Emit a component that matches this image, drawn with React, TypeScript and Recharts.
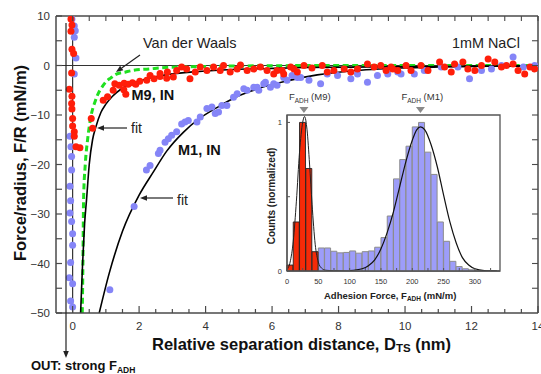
import React from 'react';
import { ComposedChart, Scatter, Line, Bar, XAxis, YAxis, ReferenceLine, ReferenceDot, ReferenceArea } from 'recharts';

const FONT = 'Arial, "Liberation Sans", Helvetica, sans-serif';
const AX = '#4a4a4a';
const RED = '#ff1e0a';
const BLUE = '#8585f7';

// ---------- main panel data (x = D_TS nm, y = F/R mN/m) ----------
const m1Approach = [
  { x: -0.02, y: 9.4 }, { x: 0.05, y: 8.0 }, { x: 0.08, y: 7.0 }, { x: 0.05, y: 5.7 }, { x: 0.1, y: 1.5 },
  { x: 0.05, y: -1.7 }, { x: -0.08, y: -14.3 }, { x: -0.05, y: -16.4 }, { x: -0.03, y: -18.4 }, { x: -0.03, y: -21.1 },
  { x: -0.08, y: -24.4 }, { x: -0.06, y: -27.3 }, { x: -0.08, y: -29.8 }, { x: -0.03, y: -31.5 }, { x: 0.0, y: -34.0 },
  { x: 0.0, y: -36.3 }, { x: -0.06, y: -39.8 }, { x: -0.1, y: -42.9 }, { x: 0.0, y: -44.1 }, { x: -0.06, y: -47.6 },
  { x: 0.0, y: -48.8 },
];
const m1Retract = [
  { x: 1.12, y: -45.3 }, { x: 1.85, y: -28.5 }, { x: 2.22, y: -21.1 }, { x: 2.33, y: -20.2 }, { x: 2.58, y: -17.8 },
  { x: 2.63, y: -17.1 }, { x: 2.78, y: -15.5 }, { x: 2.88, y: -14.8 }, { x: 2.98, y: -14.1 }, { x: 3.13, y: -13.4 },
  { x: 3.28, y: -11.8 }, { x: 3.38, y: -11.4 }, { x: 3.48, y: -11.1 }, { x: 3.74, y: -11.4 }, { x: 3.84, y: -10.4 },
  { x: 4.04, y: -8.7 }, { x: 4.19, y: -8.4 }, { x: 4.29, y: -9.7 }, { x: 4.39, y: -9.4 }, { x: 4.49, y: -8.1 },
  { x: 4.64, y: -8.1 }, { x: 4.84, y: -6.4 }, { x: 4.95, y: -5.7 }, { x: 5.15, y: -4.7 }, { x: 5.25, y: -5.0 },
  { x: 5.45, y: -4.4 }, { x: 5.55, y: -4.4 }, { x: 5.6, y: -5.0 }, { x: 5.75, y: -3.7 }, { x: 5.8, y: -3.4 },
  { x: 5.95, y: -4.4 }, { x: 6.05, y: -3.7 }, { x: 6.15, y: -4.0 }, { x: 6.35, y: -2.4 }, { x: 6.45, y: -3.0 },
  { x: 6.6, y: -2.0 }, { x: 6.76, y: -2.4 }, { x: 6.86, y: -2.4 }, { x: 7.11, y: -3.0 }, { x: 7.46, y: -3.7 },
  { x: 7.66, y: -1.7 }, { x: 7.97, y: -2.0 }, { x: 8.37, y: -2.7 }, { x: 8.57, y: -1.7 }, { x: 8.87, y: -3.4 },
  { x: 9.17, y: -2.0 }, { x: 9.48, y: -1.7 }, { x: 9.78, y: -1.3 }, { x: 9.88, y: -1.7 }, { x: 10.28, y: -1.7 },
  { x: 10.58, y: -1.0 }, { x: 11.09, y: -0.3 }, { x: 11.59, y: -0.3 }, { x: 11.94, y: -2.7 }, { x: 12.3, y: -1.0 },
  { x: 12.6, y: -0.7 }, { x: 12.9, y: 0.0 }, { x: 13.25, y: 1.7 }, { x: 13.56, y: -0.3 }, { x: 13.9, y: 0.0 },
];
const m9Approach = [
  { x: -0.05, y: 9.4 }, { x: -0.02, y: 8.2 }, { x: -0.05, y: 6.9 }, { x: -0.02, y: 3.3 }, { x: 0.03, y: 2.4 },
  { x: -0.03, y: -1.5 }, { x: -0.1, y: -4.8 }, { x: -0.02, y: -6.2 }, { x: -0.03, y: -7.7 }, { x: -0.02, y: -8.8 },
  { x: 0.0, y: -10.7 }, { x: 0.0, y: -12.2 }, { x: 0.05, y: -13.4 }, { x: 0.05, y: -14.3 }, { x: 0.1, y: -16.4 },
  { x: 0.22, y: -16.6 },
];
const m9Retract = [
  { x: 0.56, y: -10.7 }, { x: 0.6, y: -12.7 }, { x: 0.92, y: -7.0 }, { x: 1.05, y: -6.3 }, { x: 1.22, y: -5.0 },
  { x: 1.27, y: -3.7 }, { x: 1.4, y: -4.0 }, { x: 1.54, y: -4.9 }, { x: 1.6, y: -5.8 }, { x: 1.55, y: -3.6 },
  { x: 1.67, y: -3.8 }, { x: 1.8, y: -3.5 }, { x: 1.9, y: -3.8 }, { x: 2.02, y: -3.2 }, { x: 2.23, y: -3.0 },
  { x: 2.33, y: -2.0 }, { x: 2.45, y: -2.7 }, { x: 2.63, y: -2.2 }, { x: 2.63, y: -1.6 }, { x: 2.83, y: -2.6 },
  { x: 2.85, y: -1.3 }, { x: 3.03, y: -2.3 }, { x: 3.13, y: -1.0 }, { x: 3.28, y: -0.3 }, { x: 3.43, y: -0.7 },
  { x: 3.53, y: -2.7 }, { x: 3.69, y: -1.3 }, { x: 3.84, y: -0.3 }, { x: 4.04, y: -1.0 }, { x: 4.24, y: -0.3 },
  { x: 4.44, y: -1.0 }, { x: 4.54, y: 0.0 }, { x: 4.74, y: -1.3 }, { x: 4.95, y: -0.7 }, { x: 5.05, y: 0.1 },
  { x: 5.25, y: -1.0 }, { x: 5.45, y: -0.7 }, { x: 5.65, y: -0.3 }, { x: 5.85, y: -1.0 }, { x: 6.05, y: -1.7 },
  { x: 6.15, y: -1.0 }, { x: 6.3, y: -1.0 }, { x: 6.35, y: -1.7 }, { x: 6.56, y: -0.3 }, { x: 6.66, y: -0.7 },
  { x: 6.76, y: -1.3 }, { x: 6.96, y: 0.0 }, { x: 7.2, y: -0.5 }, { x: 7.51, y: 0.0 }, { x: 7.66, y: -1.3 },
  { x: 7.86, y: -1.0 }, { x: 8.17, y: -0.7 }, { x: 8.37, y: -1.3 }, { x: 8.57, y: -0.7 }, { x: 8.87, y: 0.3 },
  { x: 9.07, y: -0.3 }, { x: 9.27, y: 0.0 }, { x: 9.43, y: -1.0 }, { x: 9.58, y: -0.3 }, { x: 9.63, y: -0.7 },
  { x: 9.78, y: -1.0 }, { x: 10.03, y: 0.0 }, { x: 10.18, y: -1.0 }, { x: 10.48, y: 0.0 }, { x: 10.69, y: -1.0 },
  { x: 11.04, y: 0.7 }, { x: 11.19, y: -0.3 }, { x: 11.39, y: -1.3 }, { x: 11.49, y: 0.3 }, { x: 11.74, y: 0.7 },
  { x: 11.89, y: -0.7 }, { x: 12.1, y: -1.0 }, { x: 12.3, y: 0.0 }, { x: 12.5, y: 1.3 }, { x: 12.7, y: 0.7 },
  { x: 12.9, y: -0.3 }, { x: 13.05, y: 0.0 }, { x: 13.25, y: 0.3 }, { x: 13.4, y: -1.0 }, { x: 13.6, y: -1.7 },
  { x: 13.76, y: -0.3 }, { x: 13.9, y: -0.7 },
];
const vdwCurve = [
  { x: 0.29, y: -50 }, { x: 0.31, y: -40 }, { x: 0.33, y: -27 }, { x: 0.38, y: -20 }, { x: 0.45, y: -15 },
  { x: 0.54, y: -10.7 }, { x: 0.69, y: -7.0 }, { x: 0.82, y: -5.0 }, { x: 0.9, y: -4.2 }, { x: 1.0, y: -3.3 },
  { x: 1.15, y: -2.5 }, { x: 1.3, y: -1.8 }, { x: 1.6, y: -1.3 }, { x: 1.8, y: -1.0 }, { x: 2.3, y: -0.7 },
  { x: 2.8, y: -0.4 }, { x: 3.5, y: -0.25 }, { x: 5, y: -0.1 }, { x: 8, y: 0 }, { x: 14, y: 0 },
];
const m9Fit = [
  { x: 0.24, y: -50 }, { x: 0.3, y: -40 }, { x: 0.36, y: -32 }, { x: 0.42, y: -27 }, { x: 0.5, y: -20 },
  { x: 0.6, y: -15 }, { x: 0.7, y: -12.4 }, { x: 0.85, y: -9.5 }, { x: 1.0, y: -7.8 }, { x: 1.2, y: -6.2 },
  { x: 1.45, y: -4.8 }, { x: 1.8, y: -3.6 }, { x: 2.3, y: -2.6 }, { x: 2.8, y: -1.9 }, { x: 3.8, y: -1.2 },
  { x: 4.8, y: -0.8 }, { x: 5.9, y: -0.6 }, { x: 7, y: -0.4 }, { x: 9, y: -0.3 }, { x: 11, y: -0.2 }, { x: 14, y: -0.1 },
];
const m1Fit = [
  { x: 0.8, y: -50 }, { x: 1.1, y: -42 }, { x: 1.5, y: -33.5 }, { x: 2.0, y: -26.2 }, { x: 2.43, y: -21.5 },
  { x: 2.83, y: -17.3 }, { x: 3.33, y: -13.5 }, { x: 3.84, y: -10.6 }, { x: 4.34, y: -8.5 }, { x: 4.84, y: -6.6 },
  { x: 5.35, y: -5.2 }, { x: 5.85, y: -4.1 }, { x: 6.45, y: -3.1 }, { x: 7.36, y: -1.9 }, { x: 8.37, y: -1.1 },
  { x: 9.9, y: -0.5 }, { x: 11, y: -0.3 }, { x: 12.5, y: -0.15 }, { x: 14, y: -0.05 },
];

const xTicks = [0, 0.5, 1, 1.5, 2, 2.5, 3, 3.5, 4, 4.5, 5, 5.5, 6, 6.5, 7, 7.5, 8, 8.5, 9, 9.5, 10, 10.5, 11, 11.5, 12, 12.5, 13, 13.5, 14];
const xLabelled = [0, 2, 4, 6, 8, 10, 12, 14];
const yTicks = [-45, -40, -35, -30, -25, -20, -15, -10, -5, 0, 5];
const yLabelled = [-50, -40, -30, -20, -10, 0, 10];
const yLeftTicks = [-50, -45, -40, -35, -30, -25, -20, -15, -10, -5, 0, 5, 10];

// ---------- inset histogram data ----------
const binCenters = [5, 15, 25, 35, 45, 55, 65, 75, 85, 95, 105, 115, 125, 135, 145, 155, 165, 175, 185, 195, 205, 215, 225, 235, 245, 255, 265, 275, 285, 295, 305, 315, 325, 335];
const m9Counts = [0.04, 0.33, 1.0, 0.69, 0.13, 0, 0, 0, 0, 0, 0, 0, 0, 0, 0, 0, 0, 0, 0, 0, 0, 0, 0, 0, 0, 0, 0, 0, 0, 0, 0, 0, 0, 0];
const m1Counts = [0, 0, 0, 0, 0, 0.155, 0.155, 0.133, 0.122, 0.125, 0.135, 0.12, 0.13, 0.135, 0.16, 0.225, 0.37, 0.62, 0.75, 0.84, 0.97, 1.0, 0.8, 0.65, 0.33, 0.2, 0.065, 0.03, 0.015, 0.008, 0, 0, 0, 0];
const m9Gauss = [
  { f: 0, y: 0.01 }, { f: 5, y: 0.06 }, { f: 10, y: 0.2 }, { f: 15, y: 0.47 }, { f: 20, y: 0.8 }, { f: 25, y: 1.0 },
  { f: 28, y: 1.04 }, { f: 32, y: 0.95 }, { f: 36, y: 0.72 }, { f: 40, y: 0.45 }, { f: 45, y: 0.18 }, { f: 50, y: 0.06 },
  { f: 55, y: 0.02 }, { f: 62, y: 0.005 }, { f: 75, y: 0.002 }, { f: 100, y: 0 },
];
const m1Gauss = [
  { f: 100, y: 0.003 }, { f: 120, y: 0.015 }, { f: 130, y: 0.035 }, { f: 140, y: 0.075 }, { f: 150, y: 0.15 },
  { f: 160, y: 0.26 }, { f: 170, y: 0.4 }, { f: 180, y: 0.57 }, { f: 190, y: 0.74 }, { f: 200, y: 0.88 },
  { f: 207, y: 0.95 }, { f: 213, y: 0.97 }, { f: 220, y: 0.95 }, { f: 230, y: 0.85 }, { f: 240, y: 0.7 },
  { f: 250, y: 0.51 }, { f: 260, y: 0.33 }, { f: 270, y: 0.19 }, { f: 280, y: 0.09 }, { f: 290, y: 0.04 },
  { f: 300, y: 0.015 }, { f: 315, y: 0.003 }, { f: 335, y: 0 },
];
const insetXTicks = [0, 25, 50, 75, 100, 125, 150, 175, 200, 225, 250, 275, 300, 325];
const insetXLabelled = [0, 50, 100, 150, 200, 250, 300];
const insetYTicks = [0, 0.5, 1];
const insetYLabelled = [0, 1];
const peakM9 = 27;
const peakM1 = 213;

const histRows = binCenters.map((f, i) => ({ f, red: m9Counts[i], blue: m1Counts[i] }));

const minus = (v: number) => (v < 0 ? '\u2212' + Math.abs(v) : String(v));
const dot = (color: string) => (p: any) => <circle cx={p.cx} cy={p.cy} r={3.5} fill={color} />;

const tickText = { fill: '#333', fontSize: 11.5, fontFamily: FONT };

const BottomTick = (p: any) => {
  const v = p.payload.value;
  const lab = xLabelled.includes(v);
  return (
    <g>
      <line x1={p.x} y1={p.y} x2={p.x} y2={p.y - (lab ? 7 : 4)} stroke={AX} strokeWidth={1.2} />
      {lab && <text x={p.x} y={p.y + 17} textAnchor="middle" {...tickText}>{v}</text>}
    </g>
  );
};
const TopTick = (p: any) => <line x1={p.x} y1={p.y} x2={p.x} y2={p.y + 5} stroke={AX} strokeWidth={1.1} />;
const LeftTick = (p: any) => {
  const v = p.payload.value;
  const lab = yLabelled.includes(v);
  return (
    <g>
      <line x1={p.x} y1={p.y} x2={p.x + 6} y2={p.y} stroke={AX} strokeWidth={1.2} />
      {lab && <text x={p.x - 6} y={p.y + 4} textAnchor="end" {...tickText}>{minus(v)}</text>}
    </g>
  );
};
const RightTick = (p: any) => <line x1={p.x} y1={p.y} x2={p.x - 6} y2={p.y} stroke={AX} strokeWidth={1.1} />;

const insetText = { fill: '#333', fontSize: 7.5, fontFamily: FONT };
const InsetBottomTick = (p: any) => {
  const v = p.payload.value;
  return (
    <g>
      <line x1={p.x} y1={p.y} x2={p.x} y2={p.y - 3} stroke="#555" strokeWidth={1} />
      {insetXLabelled.includes(v) && <text x={p.x} y={p.y + 13} textAnchor="middle" {...insetText}>{v}</text>}
    </g>
  );
};
const InsetLeftTick = (p: any) => {
  const v = p.payload.value;
  return (
    <g>
      <line x1={p.x} y1={p.y} x2={p.x + 3} y2={p.y} stroke="#555" strokeWidth={1} />
      {insetYLabelled.includes(v) && <text x={p.x - 5} y={p.y + 3} textAnchor="end" {...insetText}>{v}</text>}
    </g>
  );
};

const Arrow = ({ x1, y1, x2, y2 }: { x1: number; y1: number; x2: number; y2: number }) => {
  const a = Math.atan2(y2 - y1, x2 - x1);
  const L = 7, W = 2.8;
  const bx = x2 - L * Math.cos(a), by = y2 - L * Math.sin(a);
  const px = -Math.sin(a) * W, py = Math.cos(a) * W;
  return (
    <g>
      <line x1={x1} y1={y1} x2={bx} y2={by} stroke="#222" strokeWidth={1.2} />
      <polygon points={`${x2},${y2} ${bx + px},${by + py} ${bx - px},${by - py}`} fill="#222" />
    </g>
  );
};

const tri = (labelShift: number, tag: string) => (p: any) => (
  <g>
    <path d={`M${p.cx - 4.5},${p.cy - 6} L${p.cx + 4.5},${p.cy - 6} L${p.cx},${p.cy} Z`} fill="#8a8a8a" />
    <text x={p.cx + labelShift} y={p.cy - 13} fontSize={9.5} fill="#333" fontFamily={FONT}>
      F<tspan fontSize={6.5} dy={2.5}>ADH</tspan><tspan dy={-2.5}>{tag}</tspan>
    </text>
  </g>
);

export default function App() {
  return (
    <div style={{ position: 'absolute', left: 0, top: 0, width: 541, height: 374, background: '#fff', fontFamily: FONT }}>
      <ComposedChart width={541} height={374} margin={{ top: 15, right: 2, bottom: 60, left: 55 }}>
        <XAxis xAxisId="b" type="number" dataKey="x" domain={[-0.5, 14]} allowDataOverflow ticks={xTicks} interval={0}
          height={1} tickSize={0} tickMargin={0} tick={BottomTick} tickLine={false} axisLine={{ stroke: AX, strokeWidth: 1.5 }} />
        <XAxis xAxisId="t" orientation="top" type="number" dataKey="x" domain={[-0.5, 14]} allowDataOverflow ticks={xTicks} interval={0}
          height={1} tickSize={0} tickMargin={0} tick={TopTick} tickLine={false} axisLine={{ stroke: AX, strokeWidth: 1.5 }} />
        <YAxis yAxisId="l" type="number" dataKey="y" domain={[-50, 10]} allowDataOverflow ticks={yLeftTicks} interval={0}
          width={1} tickSize={0} tickMargin={0} tick={LeftTick} tickLine={false} axisLine={{ stroke: AX, strokeWidth: 1.5 }} />
        <YAxis yAxisId="r" orientation="right" type="number" dataKey="y" domain={[-50, 10]} allowDataOverflow ticks={yTicks} interval={0}
          width={1} tickSize={0} tickMargin={0} tick={RightTick} tickLine={false} axisLine={{ stroke: AX, strokeWidth: 1.5 }} />

        <ReferenceLine xAxisId="b" yAxisId="l" y={0} stroke="#333" strokeWidth={1.2} />
        <ReferenceLine xAxisId="b" yAxisId="l" x={0} stroke="#333" strokeWidth={1.2} />

        <Scatter xAxisId="b" yAxisId="l" data={m1Approach} shape={dot(BLUE)} isAnimationActive={false} />
        <Scatter xAxisId="b" yAxisId="l" data={m1Retract} shape={dot(BLUE)} isAnimationActive={false} />
        <Scatter xAxisId="b" yAxisId="l" data={m9Approach} shape={dot(RED)} isAnimationActive={false} />
        <Scatter xAxisId="b" yAxisId="l" data={m9Retract} shape={dot(RED)} isAnimationActive={false} />

        <Line xAxisId="b" yAxisId="l" data={vdwCurve} dataKey="y" type="monotone" dot={false} stroke="#1fe01f" strokeWidth={3} strokeDasharray="6 3.5" isAnimationActive={false} />
        <Line xAxisId="b" yAxisId="l" data={m9Fit} dataKey="y" type="monotone" dot={false} stroke="#000" strokeWidth={1.6} isAnimationActive={false} />
        <Line xAxisId="b" yAxisId="l" data={m1Fit} dataKey="y" type="monotone" dot={false} stroke="#000" strokeWidth={1.6} isAnimationActive={false} />
      </ComposedChart>

      <div style={{ position: 'absolute', left: 262, top: 104, width: 246, height: 198, background: '#fff' }} />
      <div style={{ position: 'absolute', left: 262, top: 84, width: 246, height: 218 }}>
        <ComposedChart width={246} height={218} data={histRows} barCategoryGap={0} barGap={0}
          margin={{ top: 31, right: 8, bottom: 30, left: 24 }}>
          <XAxis xAxisId="cat" orientation="top" type="category" dataKey="f" hide height={0} />
          <XAxis xAxisId="x" type="number" dataKey="f" domain={[0, 340]} allowDataOverflow ticks={insetXTicks} interval={0}
            height={1} tickSize={0} tickMargin={0} tick={InsetBottomTick} tickLine={false} axisLine={{ stroke: '#555', strokeWidth: 1.3 }} />
          <YAxis yAxisId="y" type="number" domain={[0, 1.05]} allowDataOverflow ticks={insetYTicks} interval={0}
            width={1} tickSize={0} tickMargin={0} tick={InsetLeftTick} tickLine={false} axisLine={{ stroke: '#555', strokeWidth: 1.3 }} />

          <Bar xAxisId="cat" yAxisId="y" dataKey="blue" stackId="h" fill="#9d9dfa" stroke="#8c8c8c" strokeWidth={1} isAnimationActive={false} />
          <Bar xAxisId="cat" yAxisId="y" dataKey="red" stackId="h" fill="#f52a08" stroke="#222" strokeWidth={0.9} isAnimationActive={false} />
          <Line xAxisId="x" yAxisId="y" data={m9Gauss} dataKey="y" type="monotone" dot={false} stroke="#222" strokeWidth={1} isAnimationActive={false} />
          <Line xAxisId="x" yAxisId="y" data={m1Gauss} dataKey="y" type="monotone" dot={false} stroke="#111" strokeWidth={1.2} isAnimationActive={false} />
          <ReferenceArea xAxisId="x" yAxisId="y" x1={0} x2={340} y1={0} y2={1.05} fill="none" stroke="#555" strokeWidth={1.3} ifOverflow="visible" />
          <ReferenceDot xAxisId="x" yAxisId="y" x={peakM9} y={1.063} ifOverflow="visible" shape={tri(-15, ' (M9)')} />
          <ReferenceDot xAxisId="x" yAxisId="y" x={peakM1} y={1.063} ifOverflow="visible" shape={tri(-19, ' (M1)')} />
        </ComposedChart>
      </div>

      <svg width={541} height={374} style={{ position: 'absolute', left: 0, top: 0, pointerEvents: 'none' }} fontFamily={FONT}>
        <text x={20} y={163} transform="rotate(-90 20 163)" textAnchor="middle" dominantBaseline="central" fontWeight="bold" fontSize={16.5} fill="#111">
          Force/radius, F/R (mN/m)
        </text>
        <text x={152} y={350} fontWeight="bold" fontSize={16.5} fill="#111">
          Relative separation distance, D<tspan fontSize={11.5} dy={1.5}>TS</tspan><tspan dy={-1.5}> (nm)</tspan>
        </text>
        <text x={31} y={370} fontWeight="bold" fontSize={13} fill="#111">
          OUT: strong F<tspan fontSize={8.5} dy={3}>ADH</tspan>
        </text>
        <Arrow x1={66} y1={23} x2={66} y2={358} />

        <text x={143} y={48} fontSize={14.5} fill="#222">Van der Waals</text>
        <Arrow x1={140} y1={55} x2={116} y2={72} />
        <text x={131.5} y={100} fontSize={14.5} fontWeight="bold" fill="#111">M9, IN</text>
        <text x={131} y={133} fontSize={14} fill="#222">fit</text>
        <Arrow x1={127} y1={128} x2={97} y2={128} />
        <text x={178} y={155} fontSize={14.5} fontWeight="bold" fill="#111">M1, IN</text>
        <text x={177} y={205} fontSize={14} fill="#222">fit</text>
        <Arrow x1={173} y1={198} x2={140} y2={198} />
        <text x={452} y={48} fontSize={14.4} fill="#222">1mM NaCl</text>

        <text x={271} y={196} transform="rotate(-90 271 196)" textAnchor="middle" dominantBaseline="central" fontWeight="bold" fontSize={10} fill="#222">
          Counts (normalized)
        </text>
        <text x={324} y={298.5} fontWeight="bold" fontSize={9.5} fill="#222">
          Adhesion Force, F<tspan fontSize={6.5} dy={2}>ADH</tspan><tspan dy={-2}> (mN/m)</tspan>
        </text>
      </svg>
    </div>
  );
}
